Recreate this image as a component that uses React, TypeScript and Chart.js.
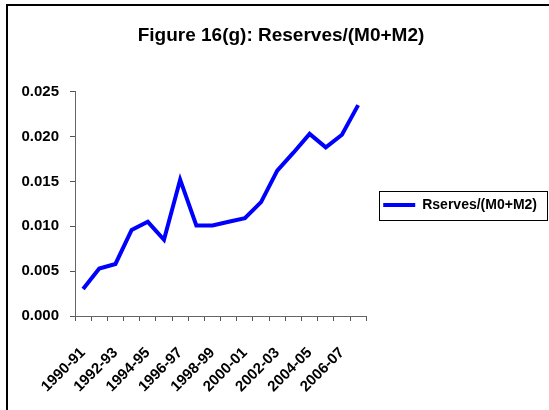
import React, { useEffect, useRef } from "react";
import { Chart, registerables } from "chart.js";

Chart.register(...registerables);

const chartTitle = "Figure 16(g): Reserves/(M0+M2)";
const seriesName = "Rserves/(M0+M2)";
const categories = [
  "1990-91", "1991-92", "1992-93", "1993-94", "1994-95", "1995-96",
  "1996-97", "1997-98", "1998-99", "1999-00", "2000-01", "2001-02",
  "2002-03", "2003-04", "2004-05", "2005-06", "2006-07", "2007-08",
];
const reserveRatio = [
  0.0030, 0.0053, 0.0058, 0.0096, 0.0105, 0.0085,
  0.0152, 0.0101, 0.0101, 0.0105, 0.0109, 0.0127,
  0.0162, 0.0182, 0.0203, 0.0188, 0.0202, 0.0235,
];
const yMin = 0;
const yMax = 0.025;
const yStep = 0.005;

const FONT = "'Liberation Sans', Arial, Helvetica, sans-serif";

const legendBorder = {
  id: "legendBorder",
  afterDraw(chart: any) {
    const lg = chart.legend;
    if (!lg || !lg.legendHitBoxes || !lg.legendHitBoxes.length) return;
    const hb = lg.legendHitBoxes[0];
    const cy = hb.top + hb.height / 2;
    const ctx = chart.ctx;
    ctx.save();
    ctx.strokeStyle = "#000";
    ctx.lineWidth = 1;
    const x = Math.round(hb.left - 4) + 0.5;
    const y = Math.round(cy - 14.5) + 0.5;
    const w = Math.round(hb.width + 14);
    ctx.strokeRect(x, y, w, 29);
    ctx.restore();
  },
};

export default function App() {
  const ref = useRef<HTMLCanvasElement | null>(null);

  useEffect(() => {
    if (!ref.current) return;
    const chart = new Chart(ref.current, {
      type: "line",
      data: {
        labels: categories,
        datasets: [
          {
            label: seriesName,
            data: reserveRatio,
            borderColor: "#0000FF",
            backgroundColor: "#0000FF",
            borderWidth: 4,
            pointRadius: 0,
            pointHoverRadius: 0,
            tension: 0,
            fill: false,
          },
        ],
      },
      options: {
        responsive: false,
        maintainAspectRatio: false,
        animation: false,
        devicePixelRatio: 1,
        layout: { padding: { left: 15, right: 2, top: 0, bottom: 0 } },
        plugins: {
          title: {
            display: true,
            text: chartTitle,
            color: "#000",
            font: { family: FONT, size: 19, weight: "bold" },
            padding: { top: 24.6, bottom: 44.3 },
          },
          legend: {
            display: true,
            position: "right",
            align: "center",
            maxWidth: 300,
            labels: {
              usePointStyle: true,
              pointStyle: "line",
              pointStyleWidth: 32,
              padding: 17,
              color: "#000",
              font: { family: FONT, size: 14, weight: "bold" },
            },
          },
          tooltip: { enabled: false },
        },
        scales: {
          x: {
            type: "category",
            offset: true,
            grid: {
              offset: true,
              drawOnChartArea: false,
              drawTicks: true,
              tickLength: 5,
              color: "#555",
            },
            border: { display: true, color: "#666", width: 1 },
            ticks: {
              autoSkip: false,
              minRotation: 45,
              maxRotation: 45,
              padding: 23,
              color: "#000",
              font: { family: FONT, size: 15, weight: "bold" },
              callback: function (this: any, value: any, index: number) {
                return index % 2 === 0 ? categories[index] : "";
              },
            },
            afterFit(scale: any) {
              scale.height = 94;
            },
          },
          y: {
            min: yMin,
            max: yMax,
            grid: {
              drawOnChartArea: false,
              drawTicks: true,
              tickLength: 5,
              color: "#555",
            },
            border: { display: true, color: "#666", width: 1 },
            ticks: {
              stepSize: yStep,
              padding: 11,
              color: "#000",
              font: { family: FONT, size: 15, weight: "bold" },
              callback: (v: any) => Number(v).toFixed(3),
            },
            afterFit(scale: any) {
              scale.width = 60;
            },
          },
        },
      },
      plugins: [legendBorder],
    });
    return () => chart.destroy();
  }, []);

  return (
    <div
      style={{
        position: "fixed",
        left: 0,
        top: 0,
        width: 549,
        height: 410,
        overflow: "hidden",
        background: "#fff",
      }}
    >
      <div
        style={{
          position: "absolute",
          left: 6,
          top: 4,
          width: 600,
          height: 460,
          borderTop: "2px solid #000",
          borderLeft: "2px solid #000",
        }}
      />
      <canvas
        ref={ref}
        width={549}
        height={410}
        style={{ position: "absolute", left: 0, top: 0, width: 549, height: 410 }}
      />
    </div>
  );
}
